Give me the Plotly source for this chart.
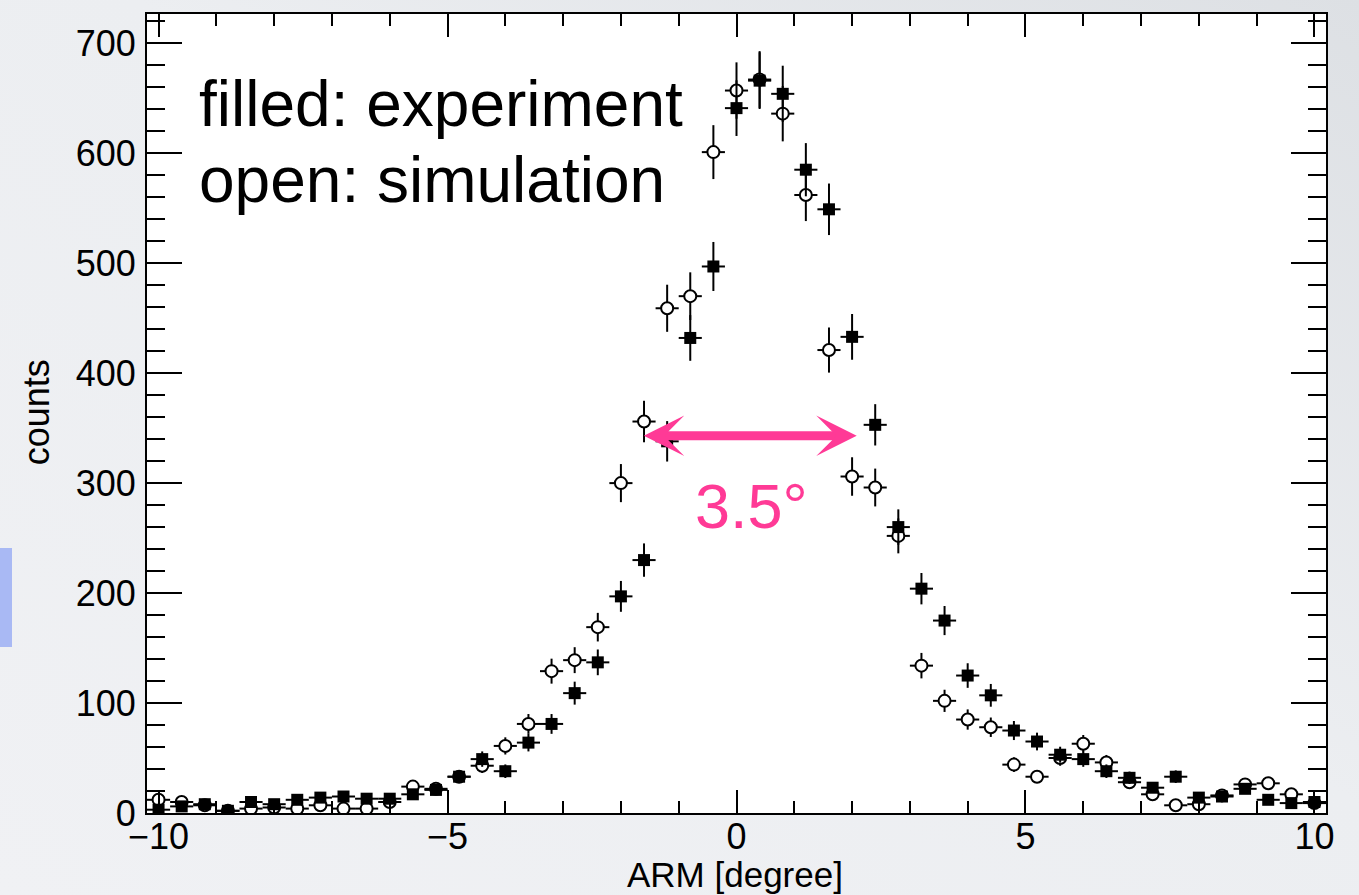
import base64
import numpy as np
import plotly.graph_objects as go

# bin centres of the ARM histogram [degree]
arm = [-10.0, -9.6, -9.2, -8.8, -8.4, -8.0, -7.6, -7.2, -6.8, -6.4,
       -6.0, -5.6, -5.2, -4.8, -4.4, -4.0, -3.6, -3.2, -2.8, -2.4,
       -2.0, -1.6, -1.2, -0.8, -0.4, 0.0, 0.4, 0.8, 1.2, 1.6,
       2.0, 2.4, 2.8, 3.2, 3.6, 4.0, 4.4, 4.8, 5.2, 5.6,
       6.0, 6.4, 6.8, 7.2, 7.6, 8.0, 8.4, 8.8, 9.2, 9.6, 10.0]

experiment = [3, 6, 8, 2, 10, 8, 12, 14, 15, 13,
              13, 17, 21, 33, 49, 38, 64, 81, 109, 137,
              197, 230, 338, 432, 497, 641, 666, 654, 585, 549,
              433, 353, 260, 204, 175, 125, 107, 75, 65, 53,
              49, 38, 32, 23, 33, 14, 15, 22, 12, 9, 10]

simulation = [12, 10, 7, 2, 4, 5, 4, 7, 4, 4,
              10, 24, 22, 33, 43, 61, 81, 129, 139, 169,
              300, 356, 459, 470, 601, 657, 667, 636, 562, 421,
              306, 296, 252, 134, 102, 85, 78, 44, 33, 50,
              63, 46, 28, 17, 7, 8, 16, 26, 27, 17, 9]

bin_half_width = 0.2
x_ticks = [-10, -5, 0, 5, 10]
y_ticks = [0, 100, 200, 300, 400, 500, 600, 700]

FONT = "Liberation Sans, Arial, Helvetica, sans-serif"
PINK = "#ff3a96"

W, H = 1359, 895
ML, MR, MT, MB = 147, 33, 14, 82
PW, PH = W - ML - MR, H - MT - MB

fig = go.Figure()

fig.add_trace(go.Scatter(
    x=arm, y=simulation, mode="markers", name="simulation",
    marker=dict(symbol="circle", size=12, color="white",
                line=dict(color="black", width=2)),
    error_y=dict(type="data", array=np.sqrt(simulation), color="black",
                 thickness=2, width=0),
    error_x=dict(type="constant", value=bin_half_width, color="black",
                 thickness=2, width=0),
    showlegend=False,
))

fig.add_trace(go.Scatter(
    x=arm, y=experiment, mode="markers", name="experiment",
    marker=dict(symbol="square", size=12, color="black",
                line=dict(width=0)),
    error_y=dict(type="data", array=np.sqrt(experiment), color="black",
                 thickness=2, width=0),
    error_x=dict(type="constant", value=bin_half_width, color="black",
                 thickness=2, width=0),
    showlegend=False,
))

axis_common = dict(
    showline=True, linecolor="black", linewidth=2, mirror="ticks",
    ticks="inside", tickcolor="black", tickwidth=2,
    showgrid=False, zeroline=False, automargin=False,
    tickfont=dict(family=FONT, size=36, color="black"),
)

fig.update_xaxes(
    range=[-10.2, 10.2], tickvals=x_ticks, ticklen=23,
    ticklabelstandoff=-9,
    minor=dict(ticks="inside", dtick=1, tick0=0, ticklen=12,
               tickwidth=2, tickcolor="black", showgrid=False),
    **axis_common,
)
fig.update_yaxes(
    range=[0, 726.6], tickvals=y_ticks, ticklen=35,
    ticklabelstandoff=2,
    minor=dict(ticks="inside", dtick=20, tick0=0, ticklen=18,
               tickwidth=2, tickcolor="black", showgrid=False),
    **axis_common,
)

annotations = [
    dict(text="filled: experiment", x=0.0424, y=0.8876, xref="paper", yref="paper",
         xanchor="left", yanchor="middle", showarrow=False,
         font=dict(family=FONT, size=64, color="black")),
    dict(text="open: simulation", x=0.0424, y=0.7925, xref="paper", yref="paper",
         xanchor="left", yanchor="middle", showarrow=False,
         font=dict(family=FONT, size=64, color="black")),
    dict(text="3.5°", x=0.5123, y=0.3837, xref="paper", yref="paper",
         xanchor="center", yanchor="middle", showarrow=False,
         font=dict(family=FONT, size=63, color=PINK)),
    dict(text="counts", x=-0.0930, y=0.5019, xref="paper", yref="paper",
         xanchor="center", yanchor="middle", showarrow=False, textangle=-90,
         font=dict(family=FONT, size=36, color="black")),
    dict(text="ARM [degree]", x=0.499, y=-0.0771, xref="paper", yref="paper",
         xanchor="center", yanchor="middle", showarrow=False,
         font=dict(family=FONT, size=35, color="black")),
    # FWHM double arrow
    dict(text="", x=2.08, y=343, ax=-1.63, ay=343,
         xref="x", yref="y", axref="x", ayref="y",
         showarrow=True, arrowside="end+start",
         arrowhead=3, startarrowhead=3,
         arrowsize=0.75, startarrowsize=0.75,
         arrowwidth=9, arrowcolor=PINK),
]

# slide-like soft grey gradient behind the figure
svg = (
    f"<svg xmlns='http://www.w3.org/2000/svg' width='{W}' height='{H}' "
    f"viewBox='0 0 {W} {H}' preserveAspectRatio='none'>"
    "<defs><linearGradient id='g' x1='0' y1='1' x2='1' y2='0'>"
    "<stop offset='0' stop-color='#f0f1f4'/>"
    "<stop offset='0.55' stop-color='#eceef1'/>"
    "<stop offset='1' stop-color='#dde0e4'/>"
    "</linearGradient></defs>"
    f"<rect width='{W}' height='{H}' fill='url(#g)'/></svg>"
)
svg_uri = "data:image/svg+xml;base64," + base64.b64encode(svg.encode()).decode()

images = [
    dict(source=svg_uri, xref="paper", yref="paper",
         x=-ML / PW, y=1 + MT / PH, sizex=W / PW, sizey=H / PH,
         xanchor="left", yanchor="top", sizing="stretch", layer="below"),
]

shapes = [
    dict(type="rect", xref="paper", yref="paper", x0=0, x1=1, y0=0, y1=1,
         fillcolor="white", line=dict(width=0), layer="below"),
    dict(type="rect", xref="paper", yref="paper",
         x0=-0.1247, x1=-0.1145, y0=0.2078, y1=0.3317,
         fillcolor="#a9b9f4", line=dict(width=0), layer="below"),
]

fig.update_layout(
    width=W, height=H, autosize=False,
    margin=dict(l=ML, r=MR, t=MT, b=MB, pad=0),
    paper_bgcolor="#eceef2", plot_bgcolor="white",
    annotations=annotations, shapes=shapes, images=images,
    font=dict(family=FONT, color="black"),
)

fig.write_html(
    "out.html",
    config={"displayModeBar": False},
    post_script="document.body.style.margin='0';document.body.style.padding='0';"
                "document.documentElement.style.overflow='hidden';",
)
